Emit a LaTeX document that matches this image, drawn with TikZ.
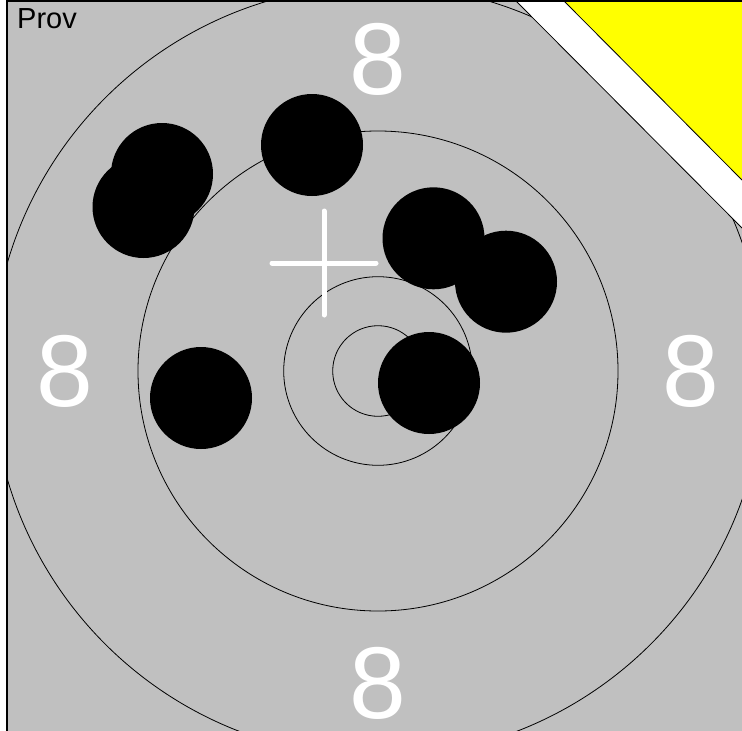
\documentclass[tikz,border=0pt]{standalone}
\usepackage{fontspec}
\setmainfont{Liberation Sans}
\definecolor{targetgray}{RGB}{192,192,192}
\definecolor{targetyellow}{RGB}{255,255,0}
\begin{document}
\begin{tikzpicture}[x=1pt, y=-1pt,
        ring/.style={color = black, line width=0.8pt},
        shot/.style={fill = black},
        ringnum/.style={text = white, inner sep=0pt, font=\fontsize{102}{102}\selectfont}]
        \useasboundingbox (0,0) rectangle (742,731);
        \fill[color = targetyellow] (563,0) -- (742,0) -- (742,180) -- cycle;
        \fill[color = white] (515,0) -- (563,0) -- (742,180) -- (742,228) -- cycle;
        \fill[color = targetgray] (7,0) -- (515,0) -- (742,228) -- (742,731) -- (7,731) -- cycle;
        \begin{scope}
        \clip (7,0) -- (515,0) -- (742,228) -- (742,731) -- (7,731) -- cycle;
        \foreach \r in {45.3, 94.3, 240, 386}
            \draw[ring] (378,371) circle (\r);
        \end{scope}
        \draw[ring] (515,0) -- (742,228);
        \draw[ring] (563,0) -- (742,180);
        \draw[color = black, line width=1.6pt] (7,731) -- (7,0.8) -- (742,0.8);
        \node[ringnum] (topeight) at (378,59) {8};
        \node[ringnum] (lefteight) at (65,371) {8};
        \node[ringnum] (righteight) at (691,371) {8};
        \node[ringnum] (bottomeight) at (378,683) {8};
        \node[anchor=base west, inner sep=0pt, font=\fontsize{29}{29}\selectfont] (prov) at (17,28) {Prov};
        \draw[color = white, line width=5pt, line cap=round] (272,263) -- (376,263);
        \draw[color = white, line width=5pt, line cap=round] (324,211) -- (324,315);
        \fill[shot] (162,174) circle (51);
        \fill[shot] (143.5,207) circle (51);
        \fill[shot] (312,145) circle (51);
        \fill[shot] (433.5,238.3) circle (51);
        \fill[shot] (506,281.7) circle (51);
        \fill[shot] (429,383) circle (51);
        \fill[shot] (201,398) circle (51);
        \end{tikzpicture}
\end{document}
